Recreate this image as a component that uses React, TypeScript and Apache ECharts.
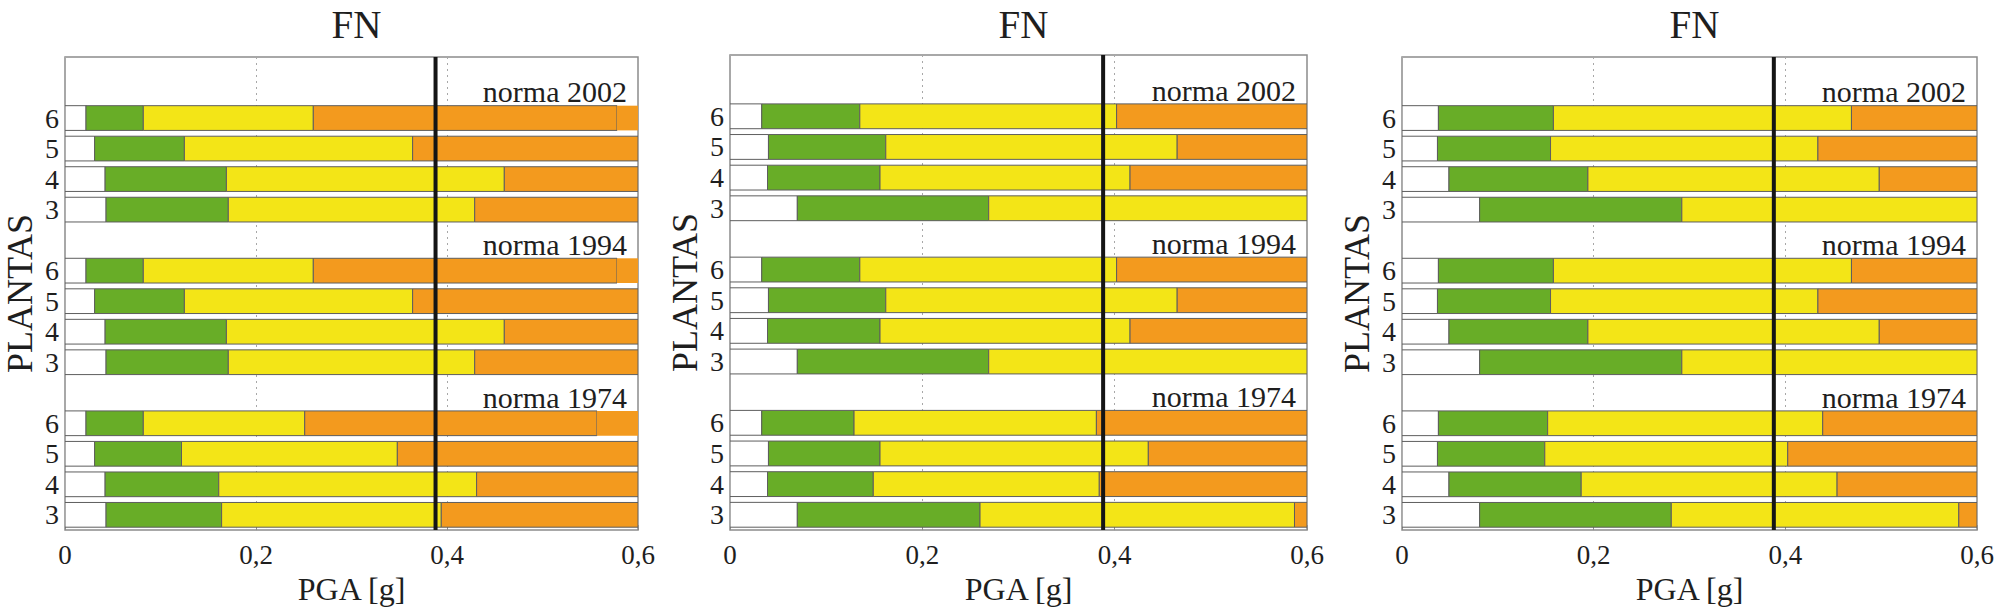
import React, { useEffect, useRef } from 'react';
import * as echarts from 'echarts';

// ---------- data ----------
const FLOORS = ['6', '5', '4', '3'];
const NORMAS = ['norma 2002', 'norma 1994', 'norma 1974'];
const PANEL_TITLES = ['FN', 'FN', 'FN'];
const X_LABEL = 'PGA [g]';
const Y_LABEL = 'PLANTAS';
const PGA_REF = 0.388;

// boundaries of each damage state, order: norma 2002 (6,5,4,3), norma 1994 (6,5,4,3), norma 1974 (6,5,4,3)
const P1_WHITE = [0.022, 0.031, 0.042, 0.043, 0.022, 0.031, 0.042, 0.043, 0.022, 0.031, 0.042, 0.043];
const P1_GREEN = [0.082, 0.125, 0.169, 0.171, 0.082, 0.125, 0.169, 0.171, 0.082, 0.122, 0.161, 0.164];
const P1_YELLOW = [0.26, 0.364, 0.46, 0.429, 0.26, 0.364, 0.46, 0.429, 0.251, 0.348, 0.431, 0.394];
const P1_ORANGE = [0.578, 0.6, 0.6, 0.6, 0.578, 0.6, 0.6, 0.6, 0.557, 0.6, 0.6, 0.6];

const P2_WHITE = [0.033, 0.04, 0.039, 0.07, 0.033, 0.04, 0.039, 0.07, 0.033, 0.04, 0.039, 0.07];
const P2_GREEN = [0.135, 0.162, 0.156, 0.269, 0.135, 0.162, 0.156, 0.269, 0.129, 0.156, 0.149, 0.26];
const P2_YELLOW = [0.402, 0.465, 0.416, 0.6, 0.402, 0.465, 0.416, 0.6, 0.381, 0.435, 0.384, 0.587];
const P2_ORANGE = [0.6, 0.6, 0.6, 0.6, 0.6, 0.6, 0.6, 0.6, 0.6, 0.6, 0.6, 0.6];

const P3_WHITE = [0.038, 0.037, 0.049, 0.081, 0.038, 0.037, 0.049, 0.081, 0.038, 0.037, 0.049, 0.081];
const P3_GREEN = [0.158, 0.155, 0.194, 0.292, 0.158, 0.155, 0.194, 0.292, 0.152, 0.149, 0.187, 0.281];
const P3_YELLOW = [0.469, 0.434, 0.498, 0.6, 0.469, 0.434, 0.498, 0.6, 0.439, 0.4025, 0.454, 0.581];
const P3_ORANGE = [0.6, 0.6, 0.6, 0.6, 0.6, 0.6, 0.6, 0.6, 0.6, 0.6, 0.6, 0.6];

const PANELS = [
  [P1_WHITE, P1_GREEN, P1_YELLOW, P1_ORANGE],
  [P2_WHITE, P2_GREEN, P2_YELLOW, P2_ORANGE],
  [P3_WHITE, P3_GREEN, P3_YELLOW, P3_ORANGE],
];

// ---------- style / layout ----------
const X_MAX = 0.6;
const Y_MIN = 0.5;
const Y_MAX = 16;
const SEG_COLORS = ['#ffffff', '#68ad27', '#f3e517', '#f39a1e', '#f39a1e'];
const FONT = "'Liberation Serif', 'DejaVu Serif', serif";
const TEXT = '#1e1e1e';
const BAR_FRAC = 0.81;
const NORMA_OFFSET = 0.92;

const GRIDS = [
  { left: 65, top: 57, width: 573, height: 478 },
  { left: 730, top: 55, width: 577, height: 481 },
  { left: 1402, top: 57, width: 575, height: 479 },
];

function barPos(i: number) {
  const g = Math.floor(i / 4);
  const f = i % 4;
  return 14 - 5 * g - f;
}

function buildOption() {
  const grid: any[] = [];
  const xAxis: any[] = [];
  const yAxis: any[] = [];
  const series: any[] = [];
  const title: any[] = [];

  const labelMap: Record<string, string> = {};
  for (let i = 0; i < 12; i++) labelMap[String(barPos(i))] = FLOORS[i % 4];

  PANELS.forEach((bounds, p) => {
    const gr = GRIDS[p];
    grid.push({
      left: gr.left,
      top: gr.top,
      width: gr.width,
      height: gr.height,
      show: true,
      borderColor: '#8c8c8c',
      borderWidth: 1.5,
      backgroundColor: '#ffffff',
      containLabel: false,
    });
    title.push({
      text: PANEL_TITLES[p],
      left: gr.left + gr.width / 2,
      top: 0,
      textAlign: 'center',
      textStyle: { fontFamily: FONT, fontSize: 39, fontWeight: 'normal', color: TEXT },
    });
    xAxis.push({
      type: 'value',
      gridIndex: p,
      min: 0,
      max: X_MAX,
      interval: 0.2,
      name: X_LABEL,
      nameLocation: 'middle',
      nameGap: 34,
      nameTextStyle: { fontFamily: FONT, fontSize: 32, color: TEXT },
      axisLine: { show: false },
      axisTick: { show: true, inside: true, length: 5, lineStyle: { color: '#8c8c8c' } },
      axisLabel: {
        fontFamily: FONT,
        fontSize: 27,
        color: TEXT,
        margin: 11,
        formatter: (v: number) => (v === 0 ? '0' : v.toFixed(1).replace('.', ',')),
      },
      splitLine: { show: true, lineStyle: { color: '#a8a8a8', type: [2, 4], width: 1 } },
    });
    yAxis.push({
      type: 'value',
      gridIndex: p,
      min: Y_MIN,
      max: Y_MAX,
      interval: 0.5,
      name: Y_LABEL,
      nameLocation: 'middle',
      nameGap: 27,
      nameTextStyle: { fontFamily: FONT, fontSize: 36, color: TEXT },
      axisLine: { show: false },
      axisTick: { show: false },
      splitLine: { show: false },
      axisLabel: {
        fontFamily: FONT,
        fontSize: 28,
        color: TEXT,
        margin: 6,
        formatter: (v: number) => labelMap[String(Math.round(v * 2) / 2)] || '',
      },
    });

    const [white, green, yellow, orange] = bounds;
    const data: number[][] = [];
    for (let i = 0; i < 12; i++) {
      const y = barPos(i);
      const edges = [0, white[i], green[i], yellow[i], orange[i], X_MAX];
      for (let k = 0; k < 5; k++) {
        if (edges[k + 1] - edges[k] > 1e-6) data.push([edges[k], edges[k + 1], y, k]);
      }
    }
    series.push({
      type: 'custom',
      xAxisIndex: p,
      yAxisIndex: p,
      clip: true,
      encode: { x: [0, 1], y: 2 },
      data,
      z: 2,
      renderItem: (params: any, api: any) => {
        const s = api.value(0);
        const e = api.value(1);
        const y = api.value(2);
        const k = api.value(3);
        const a = api.coord([s, y]);
        const b = api.coord([e, y]);
        const h = api.size([0, 1])[1] * BAR_FRAC;
        const cs = params.coordSys;
        const shape = echarts.graphic.clipRectByRect(
          { x: a[0], y: a[1] - h / 2, width: b[0] - a[0], height: h },
          { x: cs.x, y: cs.y, width: cs.width, height: cs.height }
        );
        if (!shape) return null;
        return {
          type: 'rect',
          shape,
          style: {
            fill: SEG_COLORS[k],
            stroke: k === 4 ? null : '#5e5e5e',
            lineWidth: k === 4 ? 0 : 1,
          },
        };
      },
    });
    // norma labels
    series.push({
      type: 'custom',
      xAxisIndex: p,
      yAxisIndex: p,
      encode: { x: 0, y: 1 },
      data: NORMAS.map((_, g) => [X_MAX, 14 - 5 * g + NORMA_OFFSET, g]),
      z: 3,
      renderItem: (params: any, api: any) => {
        const pt = api.coord([api.value(0), api.value(1)]);
        return {
          type: 'text',
          x: pt[0] - 11,
          y: pt[1] + 2,
          style: {
            text: NORMAS[api.value(2)],
            align: 'right',
            verticalAlign: 'middle',
            fontFamily: FONT,
            fontSize: 30,
            fill: TEXT,
          },
        };
      },
    });
    // reference PGA line
    series.push({
      type: 'line',
      xAxisIndex: p,
      yAxisIndex: p,
      data: [
        [PGA_REF, Y_MIN],
        [PGA_REF, Y_MAX],
      ],
      symbol: 'none',
      z: 5,
      lineStyle: { color: '#151515', width: 4 },
    });
  });

  return { animation: false, backgroundColor: '#ffffff', title, grid, xAxis, yAxis, series };
}

export default function App() {
  const ref = useRef<HTMLDivElement>(null);
  useEffect(() => {
    document.body.style.margin = '0';
    if (!ref.current) return;
    const chart = echarts.init(ref.current, undefined, { renderer: 'svg' });
    chart.setOption(buildOption() as any);
    return () => chart.dispose();
  }, []);
  return <div ref={ref} style={{ width: 2008, height: 610 }} />;
}
